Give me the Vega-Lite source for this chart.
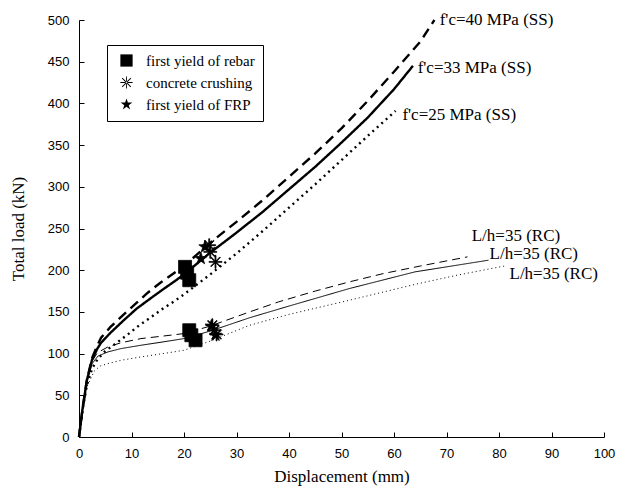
{
  "$schema": "https://vega.github.io/schema/vega-lite/v6.json",
  "width": 525,
  "height": 417,
  "autosize": {"type": "none"},
  "padding": {"left": 79, "top": 20, "right": 32, "bottom": 54},
  "background": "white",
  "config": {
    "view": {"stroke": null},
    "axis": {"grid": false, "domainColor": "black", "tickColor": "black", "labelColor": "black", "titleColor": "black", "domainWidth": 1, "tickWidth": 1},
    "font": "Liberation Serif"
  },
  "datasets": {
    "curves": [
      {"series": "SS40", "x": 0, "y": 0}, {"series": "SS40", "x": 0.7, "y": 35}, {"series": "SS40", "x": 1.5, "y": 68}, {"series": "SS40", "x": 2.5, "y": 95}, {"series": "SS40", "x": 3.5, "y": 110}, {"series": "SS40", "x": 4.2, "y": 119}, {"series": "SS40", "x": 6, "y": 132}, {"series": "SS40", "x": 8.7, "y": 148}, {"series": "SS40", "x": 11, "y": 161}, {"series": "SS40", "x": 13.1, "y": 173}, {"series": "SS40", "x": 15.5, "y": 185}, {"series": "SS40", "x": 18.2, "y": 197}, {"series": "SS40", "x": 20, "y": 205}, {"series": "SS40", "x": 22.5, "y": 219}, {"series": "SS40", "x": 25, "y": 233}, {"series": "SS40", "x": 30, "y": 258}, {"series": "SS40", "x": 35, "y": 284}, {"series": "SS40", "x": 40, "y": 312}, {"series": "SS40", "x": 45, "y": 340}, {"series": "SS40", "x": 50, "y": 370}, {"series": "SS40", "x": 55, "y": 403}, {"series": "SS40", "x": 60, "y": 438}, {"series": "SS40", "x": 65, "y": 474}, {"series": "SS40", "x": 67.7, "y": 500},
      {"series": "SS33", "x": 0, "y": 0}, {"series": "SS33", "x": 0.7, "y": 35}, {"series": "SS33", "x": 1.5, "y": 68}, {"series": "SS33", "x": 2.5, "y": 93}, {"series": "SS33", "x": 3.5, "y": 106}, {"series": "SS33", "x": 4.2, "y": 113}, {"series": "SS33", "x": 6, "y": 125}, {"series": "SS33", "x": 8.7, "y": 141}, {"series": "SS33", "x": 11, "y": 154}, {"series": "SS33", "x": 13.8, "y": 167}, {"series": "SS33", "x": 16, "y": 177}, {"series": "SS33", "x": 18.5, "y": 188}, {"series": "SS33", "x": 20, "y": 195}, {"series": "SS33", "x": 22.5, "y": 208}, {"series": "SS33", "x": 25, "y": 221}, {"series": "SS33", "x": 30, "y": 245}, {"series": "SS33", "x": 35, "y": 270}, {"series": "SS33", "x": 40, "y": 297}, {"series": "SS33", "x": 45, "y": 324}, {"series": "SS33", "x": 50, "y": 353}, {"series": "SS33", "x": 55, "y": 383}, {"series": "SS33", "x": 60, "y": 417}, {"series": "SS33", "x": 63.6, "y": 445},
      {"series": "SS25", "x": 0, "y": 0}, {"series": "SS25", "x": 0.7, "y": 33}, {"series": "SS25", "x": 1.5, "y": 62}, {"series": "SS25", "x": 2.5, "y": 82}, {"series": "SS25", "x": 3.5, "y": 93}, {"series": "SS25", "x": 5, "y": 103}, {"series": "SS25", "x": 7.4, "y": 114}, {"series": "SS25", "x": 9.3, "y": 123}, {"series": "SS25", "x": 11.5, "y": 134}, {"series": "SS25", "x": 13.8, "y": 144}, {"series": "SS25", "x": 16, "y": 154}, {"series": "SS25", "x": 18.2, "y": 163}, {"series": "SS25", "x": 20, "y": 171}, {"series": "SS25", "x": 25, "y": 195}, {"series": "SS25", "x": 30, "y": 220}, {"series": "SS25", "x": 35, "y": 247}, {"series": "SS25", "x": 40, "y": 275}, {"series": "SS25", "x": 45, "y": 303}, {"series": "SS25", "x": 50, "y": 332}, {"series": "SS25", "x": 55, "y": 361}, {"series": "SS25", "x": 60.3, "y": 391},
      {"series": "RCdash", "x": 0, "y": 0}, {"series": "RCdash", "x": 0.7, "y": 35}, {"series": "RCdash", "x": 1.5, "y": 68}, {"series": "RCdash", "x": 2.5, "y": 91}, {"series": "RCdash", "x": 3.5, "y": 101}, {"series": "RCdash", "x": 5.5, "y": 108}, {"series": "RCdash", "x": 8, "y": 113}, {"series": "RCdash", "x": 11.8, "y": 118}, {"series": "RCdash", "x": 16, "y": 121}, {"series": "RCdash", "x": 20, "y": 124}, {"series": "RCdash", "x": 25, "y": 133}, {"series": "RCdash", "x": 32.5, "y": 150}, {"series": "RCdash", "x": 38, "y": 162}, {"series": "RCdash", "x": 45, "y": 175}, {"series": "RCdash", "x": 51.5, "y": 186}, {"series": "RCdash", "x": 58, "y": 196}, {"series": "RCdash", "x": 65, "y": 205}, {"series": "RCdash", "x": 74, "y": 216},
      {"series": "RCsolid", "x": 0, "y": 0}, {"series": "RCsolid", "x": 0.7, "y": 35}, {"series": "RCsolid", "x": 1.5, "y": 66}, {"series": "RCsolid", "x": 2.5, "y": 88}, {"series": "RCsolid", "x": 3.6, "y": 97}, {"series": "RCsolid", "x": 5.5, "y": 102}, {"series": "RCsolid", "x": 8, "y": 106}, {"series": "RCsolid", "x": 11.8, "y": 110}, {"series": "RCsolid", "x": 16, "y": 114}, {"series": "RCsolid", "x": 20, "y": 118}, {"series": "RCsolid", "x": 25, "y": 127}, {"series": "RCsolid", "x": 32.5, "y": 143}, {"series": "RCsolid", "x": 40, "y": 157}, {"series": "RCsolid", "x": 51.5, "y": 178}, {"series": "RCsolid", "x": 64, "y": 198}, {"series": "RCsolid", "x": 72, "y": 206}, {"series": "RCsolid", "x": 78, "y": 212},
      {"series": "RCdot", "x": 0, "y": 0}, {"series": "RCdot", "x": 0.7, "y": 32}, {"series": "RCdot", "x": 1.5, "y": 60}, {"series": "RCdot", "x": 2.9, "y": 79}, {"series": "RCdot", "x": 4, "y": 85}, {"series": "RCdot", "x": 5.5, "y": 88}, {"series": "RCdot", "x": 8, "y": 92}, {"series": "RCdot", "x": 11.8, "y": 96}, {"series": "RCdot", "x": 16, "y": 100}, {"series": "RCdot", "x": 20, "y": 104}, {"series": "RCdot", "x": 25, "y": 115}, {"series": "RCdot", "x": 32.5, "y": 134}, {"series": "RCdot", "x": 40, "y": 147}, {"series": "RCdot", "x": 51.5, "y": 164}, {"series": "RCdot", "x": 64, "y": 183}, {"series": "RCdot", "x": 72, "y": 194}, {"series": "RCdot", "x": 81, "y": 205}
    ],
    "markers": [
      {"event": "first yield of rebar", "x": 20.2, "y": 204}, {"event": "first yield of rebar", "x": 20.6, "y": 197}, {"event": "first yield of rebar", "x": 21.0, "y": 188},
      {"event": "first yield of rebar", "x": 21.0, "y": 128}, {"event": "first yield of rebar", "x": 21.4, "y": 122}, {"event": "first yield of rebar", "x": 22.2, "y": 116},
      {"event": "concrete crushing", "x": 24.8, "y": 230}, {"event": "concrete crushing", "x": 25.0, "y": 222}, {"event": "concrete crushing", "x": 26.0, "y": 210},
      {"event": "concrete crushing", "x": 25.4, "y": 134}, {"event": "concrete crushing", "x": 25.8, "y": 128}, {"event": "concrete crushing", "x": 26.2, "y": 123},
      {"event": "first yield of FRP", "x": 24.0, "y": 228}, {"event": "first yield of FRP", "x": 23.2, "y": 214}, {"event": "first yield of FRP", "x": 25.2, "y": 133}, {"event": "first yield of FRP", "x": 26.0, "y": 122}
    ],
    "labels": [
      {"text": "f'c=40 MPa (SS)", "x": 68.7, "y": 500},
      {"text": "f'c=33 MPa (SS)", "x": 64.5, "y": 443},
      {"text": "f'c=25 MPa (SS)", "x": 61.6, "y": 386},
      {"text": "L/h=35 (RC)", "x": 74.8, "y": 241},
      {"text": "L/h=35 (RC)", "x": 78.2, "y": 219},
      {"text": "L/h=35 (RC)", "x": 82.0, "y": 195}
    ]
  },
  "layer": [
    {
      "data": {"name": "curves"},
      "transform": [{"filter": "indexof(['SS40','SS33','SS25'], datum.series) >= 0"}],
      "mark": {"type": "line", "color": "black", "strokeWidth": 2.4, "strokeCap": "butt", "clip": false},
      "encoding": {
        "x": {"field": "x", "type": "quantitative", "scale": {"domain": [0, 100], "nice": false}, "axis": {"title": "Displacement (mm)", "values": [0, 10, 20, 30, 40, 50, 60, 70, 80, 90, 100], "tickSize": -5, "labelPadding": 15, "labelFont": "Liberation Sans", "labelFontSize": 13, "titleFont": "Liberation Serif", "titleFontSize": 17, "titleFontWeight": "normal", "titlePadding": 8, "labelFlush": false}},
        "y": {"field": "y", "type": "quantitative", "scale": {"domain": [0, 500], "nice": false}, "axis": {"title": "Total load (kN)", "values": [0, 50, 100, 150, 200, 250, 300, 350, 400, 450, 500], "tickSize": -5, "labelPadding": 15, "labelFont": "Liberation Sans", "labelFontSize": 13, "titleFont": "Liberation Serif", "titleFontSize": 17, "titleFontWeight": "normal", "titlePadding": 20}},
        "detail": {"field": "series", "type": "nominal"},
        "strokeDash": {"field": "series", "type": "nominal", "scale": {"domain": ["SS40", "SS33", "SS25", "RCdash", "RCsolid", "RCdot"], "range": [[10, 6], [1, 0], [2, 4], [8, 5], [1, 0], [1, 3]]}, "legend": null}
      }
    },
    {
      "data": {"name": "curves"},
      "transform": [{"filter": "indexof(['RCdash','RCsolid','RCdot'], datum.series) >= 0"}],
      "mark": {"type": "line", "color": "black", "strokeWidth": 1, "strokeCap": "butt", "clip": false},
      "encoding": {
        "x": {"field": "x", "type": "quantitative"},
        "y": {"field": "y", "type": "quantitative"},
        "detail": {"field": "series", "type": "nominal"},
        "strokeDash": {"field": "series", "type": "nominal", "legend": null}
      }
    },
    {
      "data": {"name": "markers"},
      "mark": {"type": "point", "filled": true, "fill": "black", "stroke": "black", "strokeWidth": 0.8, "opacity": 1, "size": 169},
      "encoding": {
        "x": {"field": "x", "type": "quantitative"},
        "y": {"field": "y", "type": "quantitative"},
        "shape": {"field": "event", "type": "nominal", "scale": {"domain": ["first yield of rebar", "concrete crushing", "first yield of FRP"], "range": ["square", "M-1,-0.07L1,-0.07L1,0.07L-1,0.07ZM-0.07,-1L0.07,-1L0.07,1L-0.07,1ZM-0.757,-0.657L0.657,0.757L0.757,0.657L-0.657,-0.757ZM-0.657,0.757L0.757,-0.657L0.657,-0.757L-0.757,0.657Z", "M0,-1L0.225,-0.309L0.951,-0.309L0.363,0.118L0.588,0.809L0,0.382L-0.588,0.809L-0.363,0.118L-0.951,-0.309L-0.225,-0.309Z"]}, "legend": {"title": null, "orient": "none", "legendX": 28, "legendY": 25, "strokeColor": "black", "fillColor": "white", "padding": 8, "labelFont": "Liberation Serif", "labelFontSize": 15, "labelColor": "black", "symbolFillColor": "black", "symbolStrokeColor": "black", "symbolStrokeWidth": 0.8, "symbolSize": 150, "symbolOffset": 4, "labelOffset": 12, "rowPadding": 5}}
      }
    },
    {
      "data": {"name": "labels"},
      "mark": {"type": "text", "align": "left", "baseline": "middle", "font": "Liberation Serif", "fontSize": 17, "color": "black", "clip": false},
      "encoding": {
        "x": {"field": "x", "type": "quantitative"},
        "y": {"field": "y", "type": "quantitative"},
        "text": {"field": "text", "type": "nominal"}
      }
    }
  ]
}
